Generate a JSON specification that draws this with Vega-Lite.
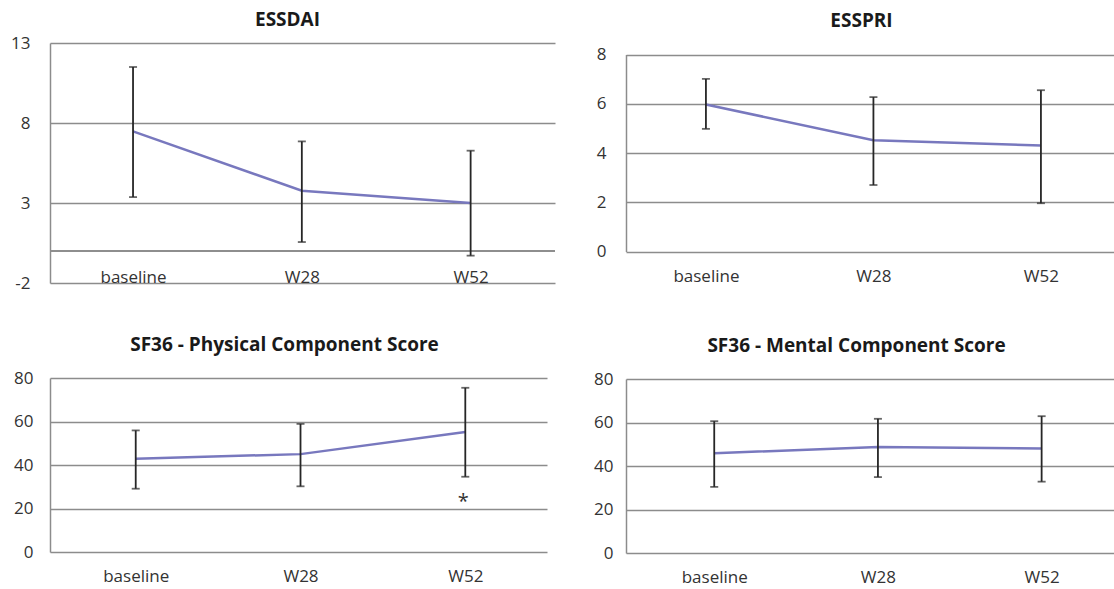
{
  "$schema": "https://vega.github.io/schema/vega-lite/v6.json",
  "padding": {"top": 11, "left": 0, "right": 0, "bottom": 0},
  "background": "white",
  "datasets": {
    "scores": [
      {"panel": "ESSDAI", "time": "baseline", "mean": 7.48, "lo": 3.37, "hi": 11.5, "sig": ""},
      {"panel": "ESSDAI", "time": "W28", "mean": 3.77, "lo": 0.56, "hi": 6.85, "sig": ""},
      {"panel": "ESSDAI", "time": "W52", "mean": 3.0, "lo": -0.29, "hi": 6.27, "sig": ""},
      {"panel": "ESSPRI", "time": "baseline", "mean": 5.97, "lo": 4.98, "hi": 7.01, "sig": ""},
      {"panel": "ESSPRI", "time": "W28", "mean": 4.52, "lo": 2.7, "hi": 6.27, "sig": ""},
      {"panel": "ESSPRI", "time": "W52", "mean": 4.3, "lo": 1.96, "hi": 6.55, "sig": ""},
      {"panel": "PCS", "time": "baseline", "mean": 42.9, "lo": 29.1, "hi": 55.9, "sig": ""},
      {"panel": "PCS", "time": "W28", "mean": 45.0, "lo": 30.2, "hi": 58.9, "sig": ""},
      {"panel": "PCS", "time": "W52", "mean": 55.2, "lo": 34.6, "hi": 75.5, "sig": "*"},
      {"panel": "MCS", "time": "baseline", "mean": 45.9, "lo": 30.4, "hi": 60.6, "sig": ""},
      {"panel": "MCS", "time": "W28", "mean": 48.7, "lo": 34.9, "hi": 61.7, "sig": ""},
      {"panel": "MCS", "time": "W52", "mean": 48.1, "lo": 32.8, "hi": 62.9, "sig": ""}
    ]
  },
  "config": {
    "view": {"stroke": null},
    "font": "Open Sans",
    "axis": {
      "labelFont": "Open Sans", "labelFontSize": 17, "labelColor": "#333333",
      "ticks": false, "title": null,
      "gridColor": "#8c8c8c", "gridWidth": 1.5,
      "domainColor": "#8c8c8c", "domainWidth": 1.5
    },
    "axisX": {"domain": false, "grid": false, "labelAngle": 0, "labelBaseline": "middle"},
    "axisY": {"grid": true, "domain": true, "labelExpr": "toString(datum.value)"},
    "title": {"font": "Open Sans", "fontSize": 19, "fontWeight": "bold", "color": "#1a1a1a", "anchor": "middle", "frame": "group"}
  },
  "spacing": 30,
  "hconcat": [
    {
      "spacing": 22,
      "vconcat": [
        {
          "width": 505, "height": 240,
          "title": {"text": "ESSDAI", "offset": 4, "dx": -15},
          "data": {"name": "scores"},
          "transform": [{"filter": "datum.panel === 'ESSDAI'"}],
          "layer": [
            {"mark": {"type": "rule", "color": "#8c8c8c", "strokeWidth": 1.5},
             "encoding": {"y": {"datum": 0, "type": "quantitative", "scale": {"domain": [-2, 13], "nice": false, "zero": false}}}},
            {"mark": {"type": "line", "color": "#7878be", "strokeWidth": 2.5},
             "encoding": {
               "x": {"field": "time", "type": "ordinal", "scale": {"type": "point", "padding": 0.4959, "align": 0.496, "domain": ["baseline", "W28", "W52"]}, "axis": {"labelPadding": -5.5, "minExtent": 30, "maxExtent": 30}},
               "y": {"field": "mean", "type": "quantitative", "scale": {"domain": [-2, 13], "nice": false, "zero": false},
                     "axis": {"values": [-2, 3, 8, 13], "labelPadding": 20, "minExtent": 50, "maxExtent": 50}}}},
            {"mark": {"type": "rule", "color": "#262626", "strokeWidth": 1.8},
             "encoding": {
               "x": {"field": "time", "type": "ordinal"},
               "y": {"field": "lo", "type": "quantitative", "scale": {"domain": [-2, 13], "nice": false, "zero": false}},
               "y2": {"field": "hi"}}},
            {"mark": {"type": "tick", "color": "#262626", "size": 8, "thickness": 1.8},
             "encoding": {"x": {"field": "time", "type": "ordinal"}, "y": {"field": "lo", "type": "quantitative", "scale": {"domain": [-2, 13], "nice": false, "zero": false}}}},
            {"mark": {"type": "tick", "color": "#262626", "size": 8, "thickness": 1.8},
             "encoding": {"x": {"field": "time", "type": "ordinal"}, "y": {"field": "hi", "type": "quantitative", "scale": {"domain": [-2, 13], "nice": false, "zero": false}}}}
          ]
        },
        {
          "width": 497, "height": 174,
          "title": {"text": "SF36 - Physical Component Score", "offset": 14.5, "dx": -14},
          "data": {"name": "scores"},
          "transform": [{"filter": "datum.panel === 'PCS'"}],
          "layer": [
            {"mark": {"type": "line", "color": "#7878be", "strokeWidth": 2.5},
             "encoding": {
               "x": {"field": "time", "type": "ordinal", "scale": {"type": "point", "padding": 0.508, "align": 0.512, "domain": ["baseline", "W28", "W52"]}, "axis": {"labelPadding": 24.5}},
               "y": {"field": "mean", "type": "quantitative", "scale": {"domain": [0, 80], "nice": false},
                     "axis": {"values": [0, 20, 40, 60, 80], "labelPadding": 17, "minExtent": 50, "maxExtent": 50}}}},
            {"mark": {"type": "rule", "color": "#262626", "strokeWidth": 1.8},
             "encoding": {
               "x": {"field": "time", "type": "ordinal"},
               "y": {"field": "lo", "type": "quantitative", "scale": {"domain": [0, 80], "nice": false}},
               "y2": {"field": "hi"}}},
            {"mark": {"type": "tick", "color": "#262626", "size": 8, "thickness": 1.8},
             "encoding": {"x": {"field": "time", "type": "ordinal"}, "y": {"field": "lo", "type": "quantitative", "scale": {"domain": [0, 80], "nice": false}}}},
            {"mark": {"type": "tick", "color": "#262626", "size": 8, "thickness": 1.8},
             "encoding": {"x": {"field": "time", "type": "ordinal"}, "y": {"field": "hi", "type": "quantitative", "scale": {"domain": [0, 80], "nice": false}}}},
            {"mark": {"type": "text", "color": "#333333", "fontSize": 20, "baseline": "middle", "dx": -2, "dy": 25},
             "encoding": {"x": {"field": "time", "type": "ordinal"}, "y": {"field": "lo", "type": "quantitative", "scale": {"domain": [0, 80], "nice": false}}, "text": {"field": "sig"}}}
          ]
        }
      ]
    },
    {
      "spacing": 44,
      "vconcat": [
        {
          "width": 489, "height": 208.5,
          "title": {"text": "ESSPRI", "offset": 12.5, "dx": -9},
          "data": {"name": "scores"},
          "transform": [{"filter": "datum.panel === 'ESSPRI'"}],
          "layer": [
            {"mark": {"type": "line", "color": "#7878be", "strokeWidth": 2.5},
             "encoding": {
               "x": {"field": "time", "type": "ordinal", "scale": {"type": "point", "padding": 0.4597, "align": 0.519, "domain": ["baseline", "W28", "W52"]}, "axis": {"labelPadding": 24.7, "minExtent": 40, "maxExtent": 40}},
               "y": {"field": "mean", "type": "quantitative", "scale": {"domain": [0, 8], "nice": false, "range": [208.5, 11.5]},
                     "axis": {"values": [0, 2, 4, 6, 8], "labelPadding": 20, "minExtent": 40, "maxExtent": 40}}}},
            {"mark": {"type": "rule", "color": "#262626", "strokeWidth": 1.8},
             "encoding": {
               "x": {"field": "time", "type": "ordinal"},
               "y": {"field": "lo", "type": "quantitative", "scale": {"domain": [0, 8], "nice": false, "range": [208.5, 11.5]}},
               "y2": {"field": "hi"}}},
            {"mark": {"type": "tick", "color": "#262626", "size": 8, "thickness": 1.8},
             "encoding": {"x": {"field": "time", "type": "ordinal"}, "y": {"field": "lo", "type": "quantitative", "scale": {"domain": [0, 8], "nice": false, "range": [208.5, 11.5]}}}},
            {"mark": {"type": "tick", "color": "#262626", "size": 8, "thickness": 1.8},
             "encoding": {"x": {"field": "time", "type": "ordinal"}, "y": {"field": "hi", "type": "quantitative", "scale": {"domain": [0, 8], "nice": false, "range": [208.5, 11.5]}}}}
          ]
        },
        {
          "width": 489, "height": 174,
          "title": {"text": "SF36 - Mental Component Score", "offset": 14.5, "dx": -14},
          "data": {"name": "scores"},
          "transform": [{"filter": "datum.panel === 'MCS'"}],
          "layer": [
            {"mark": {"type": "line", "color": "#7878be", "strokeWidth": 2.5},
             "encoding": {
               "x": {"field": "time", "type": "ordinal", "scale": {"type": "point", "padding": 0.4936, "align": 0.546, "domain": ["baseline", "W28", "W52"]}, "axis": {"labelPadding": 24.5}},
               "y": {"field": "mean", "type": "quantitative", "scale": {"domain": [0, 80], "nice": false},
                     "axis": {"values": [0, 20, 40, 60, 80], "labelPadding": 13, "minExtent": 40, "maxExtent": 40}}}},
            {"mark": {"type": "rule", "color": "#262626", "strokeWidth": 1.8},
             "encoding": {
               "x": {"field": "time", "type": "ordinal"},
               "y": {"field": "lo", "type": "quantitative", "scale": {"domain": [0, 80], "nice": false}},
               "y2": {"field": "hi"}}},
            {"mark": {"type": "tick", "color": "#262626", "size": 8, "thickness": 1.8},
             "encoding": {"x": {"field": "time", "type": "ordinal"}, "y": {"field": "lo", "type": "quantitative", "scale": {"domain": [0, 80], "nice": false}}}},
            {"mark": {"type": "tick", "color": "#262626", "size": 8, "thickness": 1.8},
             "encoding": {"x": {"field": "time", "type": "ordinal"}, "y": {"field": "hi", "type": "quantitative", "scale": {"domain": [0, 80], "nice": false}}}}
          ]
        }
      ]
    }
  ]
}
